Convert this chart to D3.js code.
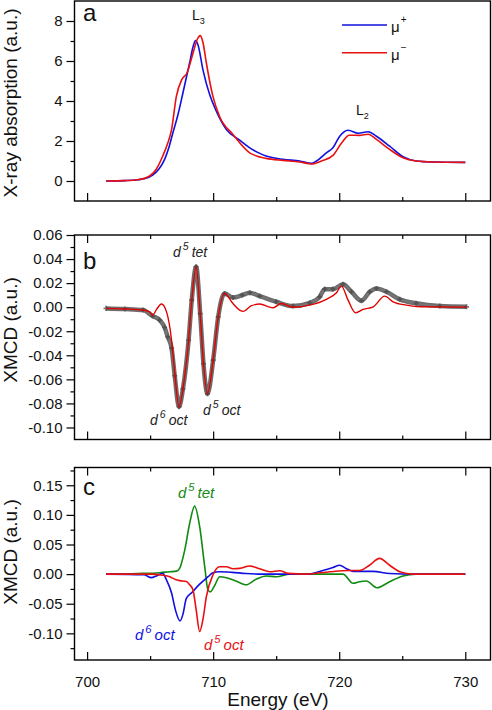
<!DOCTYPE html>
<html><head><meta charset="utf-8">
<script src="https://cdn.jsdelivr.net/npm/d3@7"></script>
<style>
body{margin:0;background:#fff;}
svg{display:block;font-family:"Liberation Sans",Arial,sans-serif;}
</style></head>
<body><svg id="c" width="492" height="710"></svg>
<script>
// ---------- Panel a: X-ray absorption ----------
const absE_plus = [701.5,703,704,704.6,705.2,705.7,706.15,706.5,706.8,707.2,707.6,708.13,708.4,708.6,708.8,709.19,709.72,710.25,711.05,712.1,712.9,713.7,714.2,715.54,716.86,717.8,718.2,718.98,719.5,720.04,720.7,721.5,722.3,722.95,724,725.06,726.1,727.4,730];
const absV_plus = [0,0.02,0.06,0.12,0.3,0.6,1.08,1.7,2.4,3.3,4.4,5.9,6.7,7.02,6.8,5.56,4.32,3.49,2.57,2.04,1.66,1.38,1.25,1.08,1.0,0.88,1.0,1.41,1.66,2.24,2.54,2.39,2.46,2.24,1.74,1.21,1.0,0.95,0.93];
const absE_minus = [701.5,703,704,704.96,705.5,706.0,706.4,706.7,707.08,707.5,707.92,708.4,708.75,708.98,709.2,709.46,709.98,710.5,711.57,712.9,713.7,714.2,715.54,716.86,717.8,718.6,719.5,720.2,720.8,721.6,722.3,722.95,724,725.06,726.1,727.4,730];
const absV_minus = [0,0.02,0.06,0.25,0.6,1.25,1.9,2.57,4.23,5.06,5.4,6.39,7.1,7.27,6.9,5.9,4.23,3.24,2.33,1.41,1.2,1.13,1.03,0.95,0.85,1.0,1.28,1.91,2.29,2.28,2.34,2.08,1.58,1.16,1.0,0.95,0.93];

// ---------- Panel b: XMCD experiment (gray) and fit (red) ----------
const expE = [701.5,703,704.43,705.2,705.75,706.15,706.4,706.7,706.95,707.29,707.6,708.05,708.3,708.65,708.97,709.23,709.55,710.0,710.4,710.9,711.57,712.3,712.9,713.69,715.0,716.33,717.66,718.45,718.85,719.5,720.3,720.97,721.76,722.42,722.95,723.75,724.8,726.1,727.98,730.1];
const expV = [-0.001,-0.0015,-0.0024,-0.0074,-0.0107,-0.0169,-0.0247,-0.034,-0.057,-0.0828,-0.068,-0.0275,0.0058,0.0336,-0.0053,-0.047,-0.072,-0.044,-0.0081,0.0114,0.008,0.010,0.012,0.0092,0.0045,0.0009,0.0036,0.0086,0.015,0.015,0.019,0.0128,0.0053,0.0128,0.0156,0.0128,0.0065,0.0032,0.0009,0.0003];
const fitE = [701.5,703,704.43,704.96,705.2,705.5,705.9,706.3,706.7,706.95,707.29,707.6,708.05,708.3,708.65,708.97,709.23,709.55,710.0,710.4,710.9,711.57,712.1,712.4,713.0,713.7,714.48,714.75,715.4,716.33,717.66,718.98,719.78,720.17,720.7,721.3,721.9,722.7,723.6,724.27,725.33,726.5,730.1];
const fitV = [-0.001,-0.0015,-0.0024,-0.0039,-0.0066,-0.002,0.0026,-0.0039,-0.0275,-0.055,-0.083,-0.068,-0.0275,0.0058,0.0336,-0.0053,-0.047,-0.072,-0.044,-0.0081,0.0114,0.003,-0.0024,-0.0035,0.001,0.0026,0,-0.0005,0.003,0,0.0017,0.0065,0.012,0.0175,0.0059,-0.0047,-0.0018,0.0003,0.0092,0.0045,0.0017,0.0003,0];

// ---------- Panel c: components ----------
const tetE = [701.5,704,705.75,706.55,707.1,707.34,707.74,708.13,708.53,708.93,709.33,709.59,709.78,710.1,710.52,711.05,711.6,712.1,712.6,713.4,714.2,715.0,716.07,720.3,721.1,721.6,722.15,722.99,724.0,725.06,726.1,730];
const tetV = [0,0.001,0.0024,0.004,0.005,0.0097,0.04,0.085,0.1148,0.08,0.0125,-0.027,-0.03,-0.02,-0.0044,-0.006,-0.01,-0.0145,-0.018,-0.0088,-0.0032,-0.0044,0,0,-0.0155,-0.0128,-0.0116,-0.023,-0.0128,-0.0032,0,0];
const d6E = [701.5,704.5,705.1,705.5,706.0,706.3,706.7,707.0,707.37,707.6,707.87,708.27,708.93,709.6,709.98,710.5,711.5,712.6,714,717.5,718.7,719.5,720.04,720.5,721.1,722.7,724.0,726,730];
const d6V = [0,-0.001,-0.006,-0.003,0.0013,-0.01,-0.032,-0.06,-0.079,-0.068,-0.041,-0.032,-0.017,-0.0044,0.0024,0.004,0.003,0.001,0,0,0.006,0.011,0.015,0.01,0.0047,0.0047,0.001,0,0];
const octE = [701.5,705,706.0,706.55,707.0,707.34,707.87,708.1,708.4,708.65,708.93,709.2,709.46,709.98,710.5,711.05,711.57,712.1,712.9,713.7,714.5,715.28,715.94,717.4,719.25,720.8,721.6,722.4,723.2,724.0,724.8,725.86,730];
const octV = [0,0,-0.002,-0.0044,-0.009,-0.011,-0.0125,-0.017,-0.027,-0.06,-0.097,-0.075,-0.038,-0.0015,0.0125,0.0125,0.009,0.0097,0.0137,0.009,0.004,0.0058,0.0013,0,0.004,0.006,0.006,0.015,0.0266,0.015,0.004,0,0];

// ---------- ticks ----------
const xMajor = [700,710,720,730];
const xMinor = [705,715,725];
const aMajor = [0,2,4,6,8], aMinor = [1,3,5,7];
const bMajor = [-0.10,-0.08,-0.06,-0.04,-0.02,0,0.02,0.04,0.06];
const bMinor = [-0.09,-0.07,-0.05,-0.03,-0.01,0.01,0.03,0.05];
const cMajor = [-0.10,-0.05,0,0.05,0.10,0.15];
const cMinor = [-0.125,-0.075,-0.025,0.025,0.075,0.125,0.175];

const svg = d3.select("#c");
const L = 74.5, R = 490.5;
const x = d3.scaleLinear().domain([699,732]).range([L,R]);
const fmt2 = v => d3.format(".2f")(v).replace("\u2212","-");

function panel(top, bottom, dom, major, minor, fmt, topTicks, bottomLabels){
  const y = d3.scaleLinear().domain(dom).range([bottom, top]);
  const g = svg.append("g");
  g.append("g").attr("transform",`translate(${L},0)`)
    .call(d3.axisLeft(y).tickValues(major).tickSize(8).tickPadding(4).tickFormat(fmt));
  g.append("g").attr("transform",`translate(${L},0)`)
    .call(d3.axisLeft(y).tickValues(minor).tickSize(4).tickFormat(""));
  g.append("g").attr("transform",`translate(0,${bottom})`)
    .call(d3.axisBottom(x).tickValues(xMajor).tickSize(-8).tickPadding(16).tickFormat(bottomLabels? d3.format("d") : ""));
  g.append("g").attr("transform",`translate(0,${bottom})`)
    .call(d3.axisBottom(x).tickValues(xMinor).tickSize(-4).tickFormat(""));
  if(topTicks){
    g.append("g").attr("transform",`translate(0,${top})`)
      .call(d3.axisTop(x).tickValues(xMajor).tickSize(-8).tickFormat(""));
    g.append("g").attr("transform",`translate(0,${top})`)
      .call(d3.axisTop(x).tickValues(xMinor).tickSize(-4).tickFormat(""));
  }
  g.selectAll(".domain").remove();
  g.selectAll(".tick line").attr("stroke","#000").attr("stroke-width",1.2);
  g.selectAll(".tick text").attr("font-size",15).attr("fill","#111")
    .attr("font-family",'"Liberation Sans",Arial,sans-serif');
  g.append("rect").attr("x",L).attr("y",top).attr("width",R-L).attr("height",bottom-top)
    .attr("fill","none").attr("stroke","#000").attr("stroke-width",1.4);
  return {g,y};
}

function drawLine(p, E, V, color, w, extra){
  const line = d3.line().x((d,i)=>x(E[i])).y((d,i)=>p.y(V[i])).curve(d3.curveMonotoneX);
  const path = p.g.append("path").datum(V).attr("d",line).attr("fill","none")
    .attr("stroke",color).attr("stroke-width",w).attr("stroke-linejoin","round");
  if(extra) extra(path);
  return path;
}

// Panel a
const pa = panel(1, 201, [-1,9], aMajor, aMinor, d3.format("d"), false, false);
drawLine(pa, absE_plus, absV_plus, "#1010e0", 1.6);
drawLine(pa, absE_minus, absV_minus, "#e81010", 1.6);

// Panel b
const pb = panel(235, 439.5, [-0.11,0.06], bMajor, bMinor, fmt2, true, false);
drawLine(pb, expE, expV, "#2e2e2e", 4.5, p=>p.attr("stroke-opacity",0.7));
drawLine(pb, expE, expV, "#7a7a7a", 1.5, p=>p.attr("stroke-opacity",0.8));
pb.g.selectAll("path.mk").data(expE).enter().append("path").attr("class","mk")
  .attr("d", d3.symbol().type(d3.symbolCross).size(14))
  .attr("transform",(d,i)=>`translate(${x(d)},${pb.y(expV[i])})`)
  .attr("fill","#444").attr("fill-opacity",0.7);
drawLine(pb, fitE, fitV, "#e00000", 1.4);

// Panel c
const pc = panel(467.5, 660, [-0.145,0.18], cMajor, cMinor, fmt2, true, true);
drawLine(pc, tetE, tetV, "#118a11", 1.6);
drawLine(pc, d6E, d6V, "#1010e0", 1.6);
drawLine(pc, octE, octV, "#e81010", 1.6);

// ---------- Text ----------
const F = '"Liberation Sans",Arial,sans-serif';
function txt(xp, yp, s, size, opts={}){
  const t = svg.append("text").attr("x",xp).attr("y",yp).attr("font-size",size)
    .attr("font-family",F).attr("fill",opts.fill||"#111").text(s);
  if(opts.anchor) t.attr("text-anchor",opts.anchor);
  if(opts.transform) t.attr("transform",opts.transform);
  return t;
}
txt(83,21,"a",24); txt(83,269,"b",24); txt(83,495,"c",24);

function Llabel(xp, yp, sub){
  const t = svg.append("text").attr("x",xp).attr("y",yp).attr("font-size",14)
    .attr("font-family",F).attr("fill","#111");
  t.append("tspan").text("L");
  t.append("tspan").attr("font-size",9).attr("dy",4).text(sub);
}
Llabel(192,20,"3");
Llabel(356,115,"2");

const legend = [{c:"#1010e0", y:25, sup:"+"},{c:"#e81010", y:52.7, sup:"\u2212"}];
legend.forEach(d=>{
  svg.append("line").attr("x1",342).attr("x2",387).attr("y1",d.y).attr("y2",d.y)
    .attr("stroke",d.c).attr("stroke-width",1.6);
  const t = svg.append("text").attr("x",391).attr("y",d.y+7).attr("font-size",15)
    .attr("font-family",F).attr("fill","#111");
  t.append("tspan").text("\u03bc");
  t.append("tspan").attr("font-size",10).attr("dy",-9).attr("dx",1).text(d.sup);
});

function dlab(xp, yp, n, rest, size, color){
  const t = svg.append("text").attr("x",xp).attr("y",yp).attr("font-size",size)
    .attr("font-family",F).attr("font-style","italic").attr("fill",color);
  t.append("tspan").text("d");
  t.append("tspan").attr("font-size",size*0.75).attr("dy",-size*0.5).attr("dx",2).text(n);
  t.append("tspan").attr("dy",size*0.5).attr("dx",3).text(rest);
}
dlab(173,257,"5","tet",14,"#222");
dlab(150,425,"6","oct",14,"#222");
dlab(203,415,"5","oct",14,"#222");
dlab(178,498,"5","tet",15,"#118a11");
dlab(135,640,"6","oct",15,"#1010e0");
dlab(204,650,"5","oct",15,"#e81010");

txt(0,0,"X-ray absorption (a.u.)",19,{anchor:"middle",transform:"translate(17,103) rotate(-90)"});
txt(0,0,"XMCD (a.u.)",19,{anchor:"middle",transform:"translate(17,330) rotate(-90)"});
txt(0,0,"XMCD (a.u.)",19,{anchor:"middle",transform:"translate(17,552) rotate(-90)"});
txt(278,706,"Energy (eV)",19,{anchor:"middle"});
</script></body></html>
